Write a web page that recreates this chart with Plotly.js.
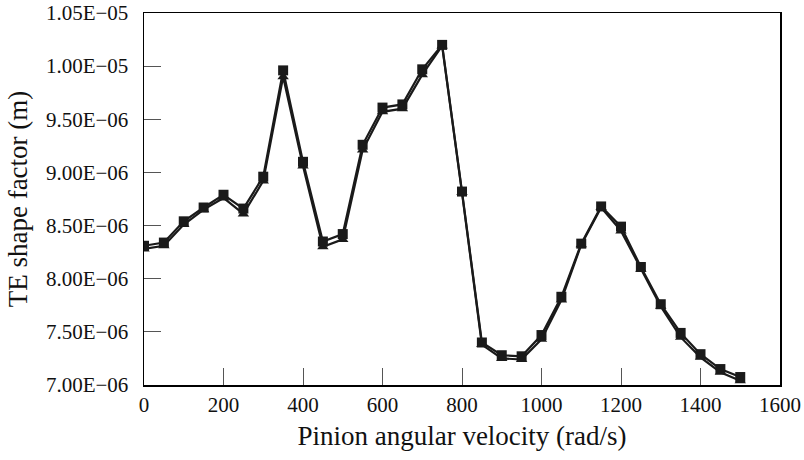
<!DOCTYPE html>
<html>
<head>
<meta charset="utf-8">
<script src="https://cdn.plot.ly/plotly-3.0.1.min.js"></script>
<style>html,body{margin:0;padding:0;background:#fff;}#chart{width:804px;height:460px;}</style>
</head>
<body>
<div id="chart"></div>
<script>
const velocity = [0,50,100,150,200,250,300,350,400,450,500,550,600,650,700,750,800,850,900,950,1000,1050,1100,1150,1200,1250,1300,1350,1400,1450,1500];
const seriesSquare = [8.31,8.34,8.54,8.67,8.79,8.66,8.96,9.96,9.10,8.35,8.42,9.26,9.61,9.64,9.97,10.20,8.82,7.40,7.28,7.27,7.47,7.83,8.33,8.68,8.49,8.11,7.76,7.49,7.29,7.15,7.075];
const seriesTriangle = [8.28,8.31,8.51,8.65,8.76,8.61,8.92,9.90,9.06,8.30,8.37,9.21,9.57,9.60,9.92,10.19,8.81,7.38,7.25,7.24,7.43,7.80,8.32,8.67,8.45,8.09,7.74,7.45,7.26,7.12,7.04];
const yTickVals = [7.0e-6,7.5e-6,8.0e-6,8.5e-6,9.0e-6,9.5e-6,1.0e-5,1.05e-5];
const yTickText = ["7.00E\u221206","7.50E\u221206","8.00E\u221206","8.50E\u221206","9.00E\u221206","9.50E\u221206","1.00E\u221205","1.05E\u221205"];
const xTickVals = [0,200,400,600,800,1000,1200,1400,1600];

const scale = v => v.map(d => d * 1e-6);
const font = "Liberation Serif, Times New Roman, serif";

const traces = [
  {x: velocity, y: scale(seriesTriangle), mode: "lines+markers", type: "scatter",
   line: {color: "#1a1a1a", width: 2.2},
   marker: {symbol: "triangle-up", size: 10, color: "#1a1a1a"}},
  {x: velocity, y: scale(seriesSquare), mode: "lines+markers", type: "scatter",
   line: {color: "#1a1a1a", width: 2.2},
   marker: {symbol: "square", size: 10, color: "#1a1a1a"}}
];

const layout = {
  width: 804, height: 460,
  margin: {l: 144, r: 24, t: 13, b: 75},
  paper_bgcolor: "#fff", plot_bgcolor: "#fff",
  showlegend: false,
  font: {family: font, color: "#111", size: 21},
  xaxis: {
    range: [0, 1600], tickvals: xTickVals, ticks: "inside", ticklen: 17, tickcolor: "#555", tickwidth: 1,
    showline: true, mirror: true, linecolor: "#000", linewidth: 1.5, showgrid: false, zeroline: false,
    tickfont: {family: font, size: 21, color: "#111"},
    title: {text: "Pinion angular velocity (rad/s)", font: {family: font, size: 27, color: "#111"}, standoff: 10}
  },
  yaxis: {
    range: [7.0e-6, 1.05e-5], tickvals: yTickVals, ticktext: yTickText, ticks: "inside", ticklen: 17, tickcolor: "#555", tickwidth: 1,
    showline: true, mirror: true, linecolor: "#000", linewidth: 1.5, showgrid: false, zeroline: false,
    ticklabelstandoff: 10,
    tickfont: {family: font, size: 21, color: "#111"},
    title: {text: "TE shape factor (m)", font: {family: font, size: 27, color: "#111"}, standoff: 10}
  }
};

Plotly.newPlot("chart", traces, layout, {displayModeBar: false, staticPlot: true});
</script>
</body>
</html>
